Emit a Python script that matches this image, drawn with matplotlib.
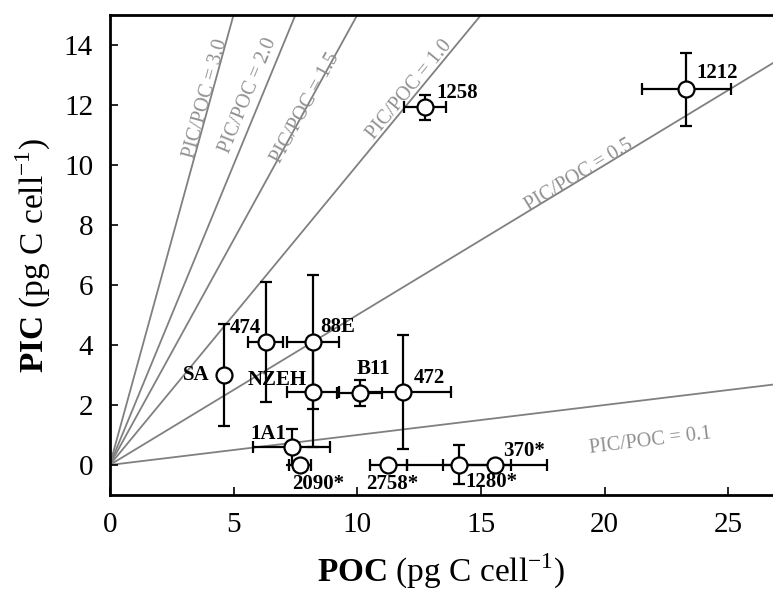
import matplotlib
matplotlib.use('Agg')
import matplotlib.pyplot as plt
import numpy as np

plt.rcParams['font.family'] = ['Liberation Serif', 'DejaVu Serif']
plt.rcParams['mathtext.fontset'] = 'custom'
plt.rcParams['mathtext.rm'] = 'Liberation Serif'
plt.rcParams['mathtext.bf'] = 'Liberation Serif:bold'

# strain values
strains = ['SA', '474', '88E', 'NZEH', 'B11', '472', '1A1',
           '2090*', '2758*', '1280*', '370*', '1258', '1212']
poc = [4.6, 6.3, 8.2, 8.2, 10.1, 11.85, 7.35, 7.7, 11.25, 14.1, 15.55, 12.75, 23.3]
pic = [3.0, 4.1, 4.1, 2.43, 2.4, 2.43, 0.6, 0.0, 0.0, 0.0, 0.0, 11.93, 12.52]
poc_err = [0.0, 0.7, 1.05, 1.05, 0.9, 1.95, 1.55, 0.45, 0.75, 2.1, 2.1, 0.85, 1.8]
pic_err = [1.7, 2.0, 2.23, 1.83, 0.43, 1.9, 0.6, 0.0, 0.0, 0.65, 0.0, 0.42, 1.23]

ratios = [3.0, 2.0, 1.5, 1.0, 0.5, 0.1]
ratio_labels = ['PIC/POC = 3.0', 'PIC/POC = 2.0', 'PIC/POC = 1.5',
                'PIC/POC = 1.0', 'PIC/POC = 0.5', 'PIC/POC = 0.1']

# label placement (text position, alignment) for each strain
lab_pos = {
    'SA': (3.5, 3.0, 'center', 'center'),
    '474': (4.85, 4.55, 'left', 'center'),
    '88E': (8.5, 4.6, 'left', 'center'),
    'NZEH': (7.95, 2.83, 'right', 'center'),
    'B11': (10.65, 3.2, 'center', 'center'),
    '472': (12.3, 2.9, 'left', 'center'),
    '1A1': (6.4, 1.03, 'center', 'center'),
    '2090*': (7.35, -0.63, 'left', 'center'),
    '2758*': (10.35, -0.63, 'left', 'center'),
    '1280*': (14.35, -0.57, 'left', 'center'),
    '370*': (15.9, 0.47, 'left', 'center'),
    '1258': (13.2, 12.4, 'left', 'center'),
    '1212': (23.7, 13.07, 'left', 'center'),
}
ratio_text_pos = [(3.9, 12.2), (5.6, 12.3), (7.9, 11.9), (12.1, 12.5), (18.95, 9.67), (21.85, 0.8)]

fig = plt.figure(figsize=(7.73, 5.94), dpi=100)
ax = fig.add_axes([0.142, 0.1667, 0.858, 0.808])
ax.set_xlim(0, 26.8)
ax.set_ylim(-1, 15)

xx = np.array([0, 30])
for r, lab, (tx, ty) in zip(ratios, ratio_labels, ratio_text_pos):
    ax.plot(xx, r * xx, color='#808080', lw=1.3, zorder=1)
    ax.text(tx, ty, lab, color='#909090', fontsize=14.5, rotation=np.degrees(np.arctan(r)),
            transform_rotates_text=True, rotation_mode='anchor', ha='center', va='center')

for i in range(len(strains)):
    ax.errorbar(poc[i], pic[i], xerr=poc_err[i] if poc_err[i] > 0 else None,
                yerr=pic_err[i] if pic_err[i] > 0 else None,
                fmt='o', ms=11.5, mfc='white', mec='black', mew=1.6, ecolor='black',
                elinewidth=1.6, capsize=4, capthick=1.6, zorder=3)
    tx, ty, ha, va = lab_pos[strains[i]]
    ax.text(tx, ty, strains[i], fontsize=15, fontweight='bold', ha=ha, va=va, zorder=4)

ax.set_xticks([0, 5, 10, 15, 20, 25])
ax.set_yticks(np.arange(0, 15, 2))
ax.tick_params(direction='in', length=6, width=1.2, labelsize=21, pad=12)
for s in ['left', 'bottom', 'top']:
    ax.spines[s].set_linewidth(2)
ax.spines['right'].set_visible(False)

ax.set_xlabel(r'$\mathbf{POC}$ (pg C cell$^{\mathrm{-1}}$)', fontsize=24, labelpad=10)
ax.set_ylabel(r'$\mathbf{PIC}$ (pg C cell$^{\mathrm{-1}}$)', fontsize=24, labelpad=8)

fig.savefig('out.png', dpi=100)
